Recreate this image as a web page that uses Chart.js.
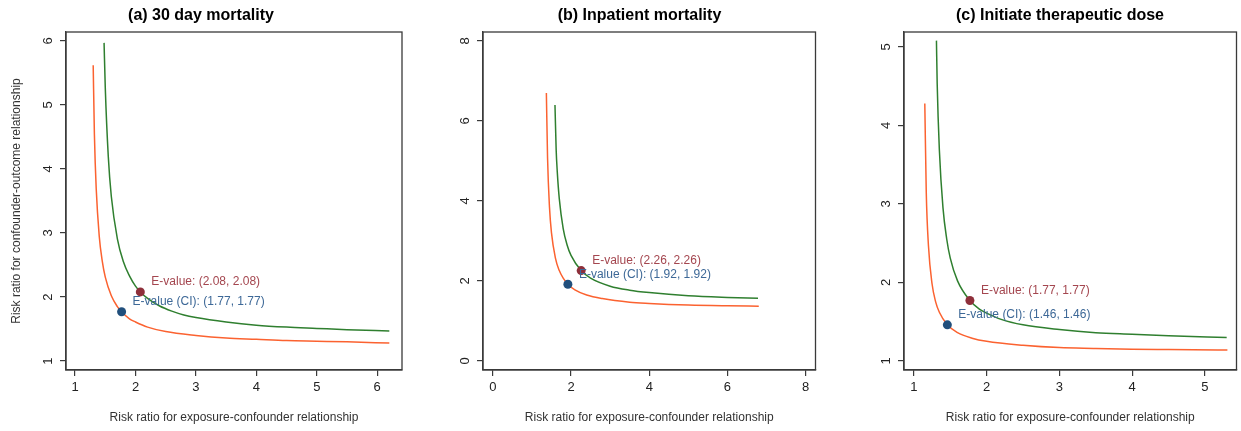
<!DOCTYPE html>
<html>
<head>
<meta charset="utf-8">
<script src="https://cdn.jsdelivr.net/npm/chart.js@4/dist/chart.umd.min.js"></script>
<style>
  html, body { margin: 0; padding: 0; background: #fff; }
  body { width: 1241px; height: 431px; position: relative; overflow: hidden; }
  .panel { position: absolute; top: 0; height: 431px; }
</style>
</head>
<body>
<div class="panel" style="left:0;width:414px"><canvas id="panel-a"></canvas></div>
<div class="panel" style="left:460px;width:360px"><canvas id="panel-b"></canvas></div>
<div class="panel" style="left:880px;width:361px"><canvas id="panel-c"></canvas></div>
<script>
'use strict';

// (a) 30 day mortality
const aGreenX = [1.48, 1.50, 1.55, 1.60, 1.70, 1.80, 1.90, 2.00, 2.08, 2.20, 2.40, 2.60, 2.80, 3.00, 3.50, 4.00, 4.50, 5.00, 5.50, 6.20];
const aGreenY = [5.97, 5.27, 4.19, 3.57, 2.91, 2.55, 2.33, 2.17, 2.08, 1.98, 1.86, 1.78, 1.72, 1.68, 1.61, 1.56, 1.53, 1.51, 1.49, 1.47];
const aOrangeX = [1.30, 1.32, 1.35, 1.40, 1.45, 1.50, 1.60, 1.70, 1.77, 1.90, 2.00, 2.20, 2.50, 3.00, 3.50, 4.00, 4.50, 5.00, 5.50, 6.20];
const aOrangeY = [5.62, 4.54, 3.69, 2.95, 2.56, 2.31, 2.02, 1.85, 1.77, 1.66, 1.61, 1.53, 1.46, 1.40, 1.36, 1.34, 1.32, 1.31, 1.30, 1.28];
const aEvalue = [2.08, 2.08];
const aEvalueCI = [1.77, 1.77];

// (b) Inpatient mortality
const bGreenX = [1.59, 1.62, 1.65, 1.70, 1.80, 1.90, 2.00, 2.26, 2.50, 3.00, 3.50, 4.00, 5.00, 6.00, 6.78];
const bGreenY = [6.40, 5.29, 4.71, 4.06, 3.31, 2.90, 2.64, 2.26, 2.07, 1.87, 1.77, 1.71, 1.63, 1.59, 1.57];
const bOrangeX = [1.37, 1.40, 1.45, 1.50, 1.60, 1.70, 1.80, 1.92, 2.10, 2.40, 2.80, 3.50, 4.00, 5.00, 6.00, 6.80];
const bOrangeY = [6.70, 5.09, 3.84, 3.21, 2.58, 2.26, 2.07, 1.92, 1.78, 1.65, 1.56, 1.47, 1.44, 1.40, 1.38, 1.37];
const bEvalue = [2.26, 2.26];
const bEvalueCI = [1.92, 1.92];

// (c) Initiate therapeutic dose
const cGreenX = [1.31, 1.32, 1.35, 1.40, 1.45, 1.50, 1.60, 1.77, 1.90, 2.00, 2.20, 2.50, 3.00, 3.50, 4.00, 4.50, 5.30];
const cGreenY = [5.08, 4.54, 3.69, 2.95, 2.56, 2.31, 2.02, 1.77, 1.66, 1.61, 1.53, 1.46, 1.40, 1.36, 1.34, 1.32, 1.30];
const cOrangeX = [1.15, 1.17, 1.20, 1.25, 1.30, 1.35, 1.46, 1.60, 1.80, 2.00, 2.50, 3.00, 3.50, 4.00, 4.50, 5.31];
const cOrangeY = [4.28, 3.15, 2.47, 1.98, 1.75, 1.62, 1.46, 1.36, 1.29, 1.25, 1.20, 1.17, 1.16, 1.15, 1.146, 1.14];
const cEvalue = [1.77, 1.77];
const cEvalueCI = [1.46, 1.46];

// tick labels
const aTicksX = [1, 2, 3, 4, 5, 6];
const aTicksY = [1, 2, 3, 4, 5, 6];
const bTicksX = [0, 2, 4, 6, 8];
const bTicksY = [0, 2, 4, 6, 8];
const cTicksX = [1, 2, 3, 4, 5];
const cTicksY = [1, 2, 3, 4, 5];

const COLOR_GREEN = '#2f7f2f';
const COLOR_ORANGE = '#fb6230';
const COLOR_RED = '#8e2f3a';
const COLOR_BLUE = '#214f7c';
const AXIS_COLOR = '#3a3a3a';
const FONT = 'Liberation Sans, Arial, Helvetica, sans-serif';

function puntos(xs, ys) {
    return xs.map((x, i) => ({ x: x, y: ys[i] }));
}

// marco completo, etiquetas del eje y giradas y rótulos de los E-values
const marcoPlugin = {
    id: 'marco',
    afterDraw(chart) {
        const { ctx, chartArea, scales } = chart;
        ctx.save();
        ctx.strokeStyle = AXIS_COLOR;
        ctx.lineWidth = 1.3;
        ctx.strokeRect(chartArea.left, chartArea.top, chartArea.right - chartArea.left, chartArea.bottom - chartArea.top);

        ctx.fillStyle = '#222';
        ctx.font = '13px ' + FONT;
        ctx.textAlign = 'center';
        ctx.textBaseline = 'middle';
        scales.y.ticks.forEach(t => {
            const py = scales.y.getPixelForValue(t.value);
            ctx.save();
            ctx.translate(chartArea.left - 18, py);
            ctx.rotate(-Math.PI / 2);
            ctx.fillText(String(t.value), 0, 0);
            ctx.restore();
        });

        const rotulos = chart.options.plugins.marco.rotulos;
        ctx.font = '12px ' + FONT;
        ctx.textAlign = 'left';
        rotulos.forEach(r => {
            const px = scales.x.getPixelForValue(r.punto[0]);
            const py = scales.y.getPixelForValue(r.punto[1]);
            ctx.fillStyle = r.color;
            ctx.fillText(r.texto, px + 11, py - 10);
        });
        ctx.restore();
    }
};

function crearPanel(id, cfg) {
    const ctx = document.getElementById(id).getContext('2d');
    return new Chart(ctx, {
        type: 'scatter',
        data: {
            datasets: [
                {
                    data: puntos(cfg.orangeX, cfg.orangeY),
                    showLine: true,
                    borderColor: COLOR_ORANGE,
                    borderWidth: 1.5,
                    pointRadius: 0,
                    cubicInterpolationMode: 'monotone',
                    order: 2
                },
                {
                    data: puntos(cfg.greenX, cfg.greenY),
                    showLine: true,
                    borderColor: COLOR_GREEN,
                    borderWidth: 1.5,
                    pointRadius: 0,
                    cubicInterpolationMode: 'monotone',
                    order: 2
                },
                {
                    data: [{ x: cfg.evalue[0], y: cfg.evalue[1] }],
                    pointRadius: 4.5,
                    borderWidth: 0,
                    backgroundColor: COLOR_RED,
                    order: 0
                },
                {
                    data: [{ x: cfg.evalueCI[0], y: cfg.evalueCI[1] }],
                    pointRadius: 4.5,
                    borderWidth: 0,
                    backgroundColor: COLOR_BLUE,
                    order: 0
                }
            ]
        },
        options: {
            responsive: false,
            animation: false,
            layout: { padding: { left: 0, right: cfg.padRight, top: 0, bottom: 0 } },
            plugins: {
                legend: { display: false },
                tooltip: { enabled: false },
                title: {
                    display: true,
                    text: cfg.titulo,
                    color: '#000',
                    font: { family: FONT, size: 16, weight: 'bold', lineHeight: 1.2 },
                    padding: { top: 6, bottom: 6.8 }
                },
                marco: {
                    rotulos: [
                        { punto: cfg.evalue, color: '#a4464f', texto: `E-value: (${cfg.evalue[0].toFixed(2)}, ${cfg.evalue[1].toFixed(2)})` },
                        { punto: cfg.evalueCI, color: '#3d6897', texto: `E-value (CI): (${cfg.evalueCI[0].toFixed(2)}, ${cfg.evalueCI[1].toFixed(2)})` }
                    ]
                }
            },
            scales: {
                x: {
                    type: 'linear',
                    min: cfg.xMin,
                    max: cfg.xMax,
                    afterBuildTicks: s => { s.ticks = cfg.ticksX.map(v => ({ value: v })); },
                    afterFit: s => { s.height = 61; },
                    grid: { drawOnChartArea: false, drawTicks: true, tickLength: 6, color: AXIS_COLOR, lineWidth: 1.2 },
                    border: { display: true, color: AXIS_COLOR, width: 1.3 },
                    ticks: { color: '#222', font: { family: FONT, size: 13 }, padding: 4, maxRotation: 0 },
                    title: {
                        display: true,
                        text: 'Risk ratio for exposure-confounder relationship',
                        color: '#333',
                        font: { family: FONT, size: 12, lineHeight: 1.2 },
                        padding: { top: 0, bottom: 5.8 }
                    }
                },
                y: {
                    type: 'linear',
                    min: cfg.yMin,
                    max: cfg.yMax,
                    afterBuildTicks: s => { s.ticks = cfg.ticksY.map(v => ({ value: v })); },
                    afterFit: s => { s.width = cfg.yWidth; },
                    grid: { drawOnChartArea: false, drawTicks: true, tickLength: 6, color: AXIS_COLOR, lineWidth: 1.2 },
                    border: { display: true, color: AXIS_COLOR, width: 1.3 },
                    ticks: { display: false },
                    title: {
                        display: !!cfg.tituloY,
                        text: cfg.tituloY || '',
                        color: '#333',
                        font: { family: FONT, size: 12, lineHeight: 1.2 },
                        padding: { top: 9.8, bottom: 0 }
                    }
                }
            }
        },
        plugins: [marcoPlugin]
    });
}

function prepararCanvas(id, ancho) {
    const c = document.getElementById(id);
    c.width = ancho;
    c.height = 431;
    c.style.width = ancho + 'px';
    c.style.height = '431px';
}

prepararCanvas('panel-a', 414);
prepararCanvas('panel-b', 360);
prepararCanvas('panel-c', 361);

crearPanel('panel-a', {
    titulo: '(a) 30 day mortality',
    tituloY: 'Risk ratio for confounder-outcome relationship',
    greenX: aGreenX, greenY: aGreenY, orangeX: aOrangeX, orangeY: aOrangeY,
    evalue: aEvalue, evalueCI: aEvalueCI,
    ticksX: aTicksX, ticksY: aTicksY,
    xMin: 0.85, xMax: 6.41, yMin: 0.86, yMax: 6.14,
    yWidth: 66, padRight: 12
});

crearPanel('panel-b', {
    titulo: '(b) Inpatient mortality',
    greenX: bGreenX, greenY: bGreenY, orangeX: bOrangeX, orangeY: bOrangeY,
    evalue: bEvalue, evalueCI: bEvalueCI,
    ticksX: bTicksX, ticksY: bTicksY,
    xMin: -0.25, xMax: 8.25, yMin: -0.225, yMax: 8.225,
    yWidth: 23, padRight: 1
});

crearPanel('panel-c', {
    titulo: '(c) Initiate therapeutic dose',
    greenX: cGreenX, greenY: cGreenY, orangeX: cOrangeX, orangeY: cOrangeY,
    evalue: cEvalue, evalueCI: cEvalueCI,
    ticksX: cTicksX, ticksY: cTicksY,
    xMin: 0.864, xMax: 5.435, yMin: 0.885, yMax: 5.19,
    yWidth: 24, padRight: 1
});
</script>
</body>
</html>
